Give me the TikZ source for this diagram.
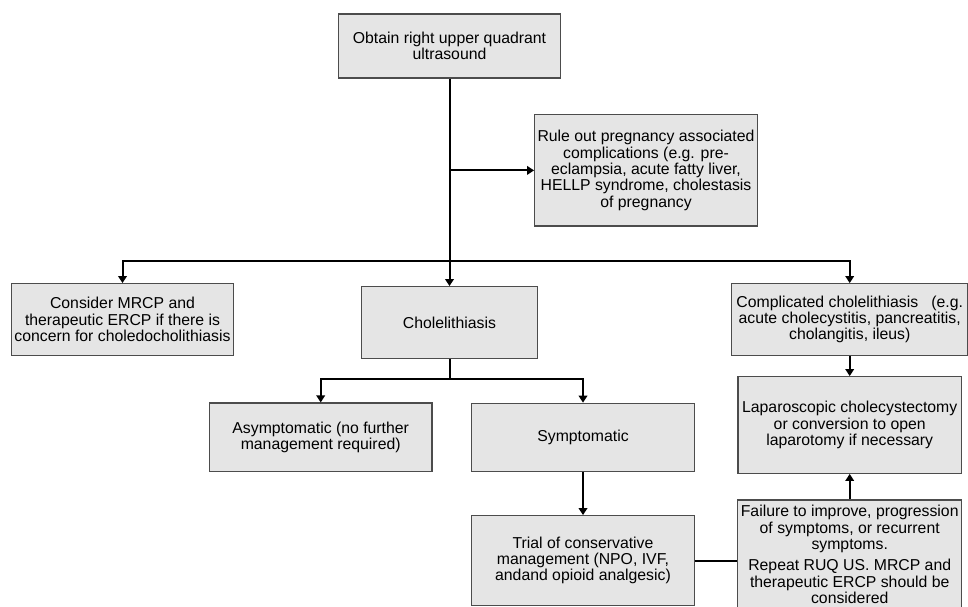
\documentclass[tikz,border=0pt]{standalone}
\usepackage{fontspec}
\setmainfont{Liberation Sans}
\usepackage{tikz}
\usetikzlibrary{arrows.meta}
\definecolor{boxfill}{gray}{0.9}
\definecolor{boxline}{gray}{0.3}
\begin{document}
\begin{tikzpicture}[x=1pt,y=-1pt]
\tikzstyle{every node}=[draw=boxline,fill=boxfill,line width=1.2pt,align=center,inner sep=0.5pt,font=\fontsize{15.8}{16.4}\selectfont]
\tikzstyle{link}=[line width=2pt,arrows={-{Triangle[length=7pt,width=8.5pt]}}]
\useasboundingbox (0,0) rectangle (968,607);
% boxes
\node[minimum width=222pt,minimum height=64pt] (us) at (449.5,46) {Obtain right upper quadrant\\ultrasound};
\node[minimum width=222.6pt,minimum height=111.3pt] (preg) at (646,170.4) {Rule out pregnancy associated\\complications (e.g. pre-\\eclampsia, acute fatty liver,\\HELLP syndrome, cholestasis\\of pregnancy};
\node[minimum width=221.6pt,minimum height=71.6pt] (mrcp) at (122.5,319.5) {Consider MRCP and\\therapeutic ERCP if there is\\concern for choledocholithiasis};
\node[minimum width=175.7pt,minimum height=72pt] (chol) at (449.5,322.7) {Cholelithiasis};
\node[minimum width=236pt,minimum height=71.6pt] (comp) at (849.7,319.5) {Complicated cholelithiasis \ \ (e.g.\\acute cholecystitis, pancreatitis,\\cholangitis, ileus)};
\node[minimum width=222.7pt,minimum height=68.3pt] (asym) at (320.7,437.2) {Asymptomatic (no further\\management required)};
\node[minimum width=222.6pt,minimum height=68pt] (symp) at (583,437.3) {Symptomatic};
\node[minimum width=223.6pt,minimum height=96.6pt] (lap) at (849.7,425) {Laparoscopic cholecystectomy\\or conversion to open\\laparotomy if necessary};
\node[minimum width=222.6pt,minimum height=89.6pt] (trial) at (583,560.5) {Trial of conservative\\management (NPO, IVF,\\andand opioid analgesic)};
\node[minimum width=223.7pt,minimum height=109pt] (fail) at (849.7,554.5) {Failure to improve, progression\\of symptoms, or recurrent\\symptoms.\\[5pt]Repeat RUQ US. MRCP and\\therapeutic ERCP should be\\considered};
% connectors
\coordinate (bus) at (449.5,260.7);
\coordinate (sub) at (449.5,379);
\draw[link] (us) -- (chol);
\draw[link] (us.south |- preg.west) -- (preg.west);
\draw[link] (bus) -| (mrcp.north);
\draw[link] (bus) -| (comp.north);
\draw[line width=2pt] (chol) -- (sub);
\draw[link] (sub) -| (asym.north);
\draw[link] (sub) -| (symp.north);
\draw[link] (symp) -- (trial);
\draw[link] (comp) -- (lap);
\draw[link] (fail) -- (lap);
\draw[line width=2pt] (trial.east) -- (trial.east -| fail.west);
\end{tikzpicture}
\end{document}
